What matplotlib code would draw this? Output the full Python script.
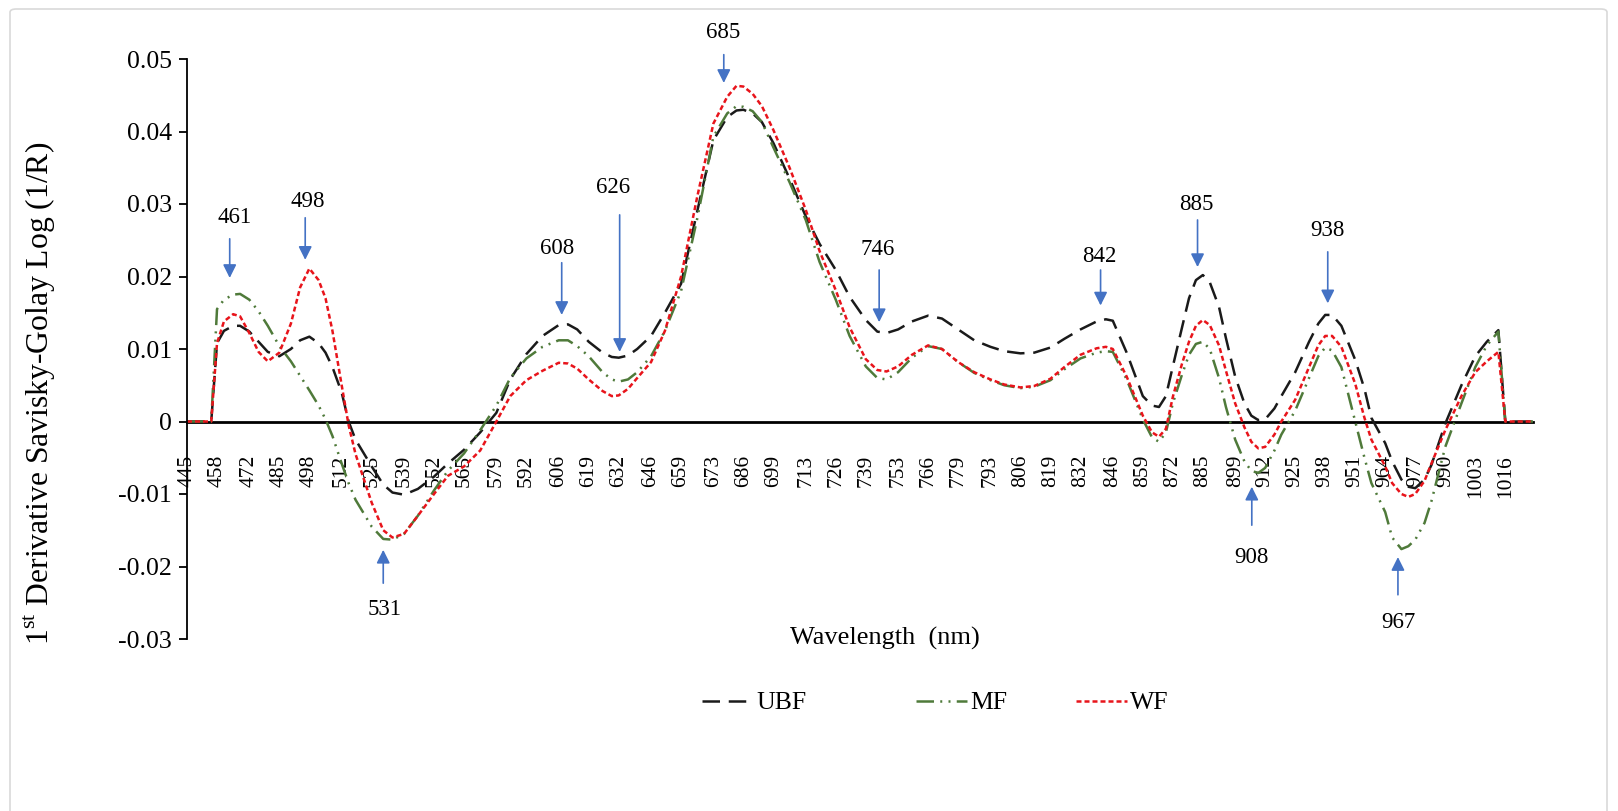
import numpy as np
import matplotlib
matplotlib.use("Agg")
import matplotlib.pyplot as plt
from matplotlib.patches import FancyBboxPatch

plt.rcParams['font.family'] = ['Liberation Serif', 'DejaVu Serif']
plt.rcParams['mathtext.fontset'] = 'custom'
plt.rcParams['mathtext.rm'] = 'Liberation Serif'

# wavelength (nm) of the sampled points
wavelength = [445, 455.5, 458, 461, 465, 468, 472, 476, 480, 485, 490, 494, 498, 502, 505, 508,
              512, 515, 518, 525, 530, 534, 539, 545, 552, 558, 565, 572, 579, 585, 592, 599,
              606, 610, 614, 619, 625, 629, 632, 636, 640, 646, 652, 659, 666, 673, 679, 683,
              686, 690, 694, 699, 706, 713, 719, 726, 732, 739, 744, 748, 753, 759, 766, 772,
              779, 786, 793, 799, 806, 812, 819, 825, 832, 839, 843, 846, 852, 859, 863, 866,
              869, 872, 876, 879, 882, 885, 888, 892, 895, 899, 903, 906, 909, 912, 916, 919,
              925, 931, 935, 938, 941, 945, 951, 955, 958, 964, 967, 971, 974, 977, 981, 984,
              990, 997, 1003, 1008, 1013, 1016, 1028]

ubf = [0, 0, 0.0108, 0.0125, 0.0132, 0.0132, 0.0124, 0.0110, 0.0096, 0.0090, 0.0100, 0.0112,
       0.0117, 0.0108, 0.0095, 0.0075, 0.0040, 0.0000, -0.0025, -0.0062, -0.0087, -0.0098,
       -0.0101, -0.0093, -0.0076, -0.0058, -0.0039, -0.0015, 0.0012, 0.0058, 0.0093, 0.0118,
       0.0133, 0.0134, 0.0127, 0.0110, 0.0095, 0.0089, 0.0088, 0.0091, 0.0100, 0.0118, 0.0150,
       0.0190, 0.0290, 0.0388, 0.0420, 0.0429, 0.0430, 0.0425, 0.0413, 0.0384, 0.0335, 0.0283,
       0.0245, 0.0209, 0.0172, 0.0140, 0.0124, 0.0122, 0.0127, 0.0138, 0.0146, 0.0142, 0.0127,
       0.0112, 0.0103, 0.0097, 0.0094, 0.0095, 0.0102, 0.0114, 0.0127, 0.0138, 0.0141, 0.0139,
       0.0095, 0.0035, 0.0022, 0.0020, 0.0035, 0.0076, 0.0130, 0.0170, 0.0195, 0.0202, 0.0192,
       0.0158, 0.0115, 0.0062, 0.0025, 0.0008, 0.0002, 0.0003, 0.0018, 0.0035, 0.0068, 0.0110,
       0.0135, 0.0147, 0.0147, 0.0132, 0.0085, 0.0045, 0.0005, -0.0030, -0.0055, -0.0080,
       -0.0090, -0.0092, -0.0080, -0.0060, -0.0003, 0.0050, 0.0090, 0.0110, 0.0126, 0, 0]

mf = [0, 0, 0.0155, 0.0168, 0.0175, 0.0176, 0.0168, 0.0152, 0.0132, 0.0104, 0.0083, 0.0063,
      0.0043, 0.0022, 0.0003, -0.0020, -0.0058, -0.0085, -0.0108, -0.0145, -0.0162, -0.0163,
      -0.0155, -0.0130, -0.0095, -0.0068, -0.0044, -0.0012, 0.0022, 0.0060, 0.0087, 0.0103,
      0.0112, 0.0112, 0.0104, 0.0090, 0.0068, 0.0058, 0.0055, 0.0058, 0.0068, 0.0090, 0.0125,
      0.0180, 0.0280, 0.0393, 0.0425, 0.0435, 0.0434, 0.0428, 0.0413, 0.0378, 0.0330, 0.0278,
      0.0220, 0.0168, 0.0118, 0.0076, 0.0060, 0.0058, 0.0068, 0.0088, 0.0104, 0.0100, 0.0082,
      0.0067, 0.0057, 0.0050, 0.0046, 0.0048, 0.0057, 0.0072, 0.0087, 0.0095, 0.0097, 0.0096,
      0.0058, 0.0003, -0.0022, -0.0028, -0.0015, 0.0025, 0.0065, 0.0092, 0.0107, 0.0110, 0.0100,
      0.0060, 0.0020, -0.0025, -0.0055, -0.0068, -0.0071, -0.0064, -0.0040, -0.0018, 0.0015,
      0.0060, 0.0090, 0.0102, 0.0098, 0.0075, 0.0000, -0.0050, -0.0085, -0.0125, -0.0160,
      -0.0176, -0.0172, -0.0163, -0.0140, -0.0110, -0.0035, 0.0025, 0.0075, 0.0105, 0.0124, 0, 0]

wf = [0, 0, 0.0108, 0.0138, 0.0148, 0.0145, 0.0122, 0.0096, 0.0083, 0.0095, 0.0135, 0.0185,
      0.0211, 0.0195, 0.0170, 0.0125, 0.0050, -0.0005, -0.0045, -0.0112, -0.0150, -0.0160,
      -0.0155, -0.0130, -0.0100, -0.0075, -0.0062, -0.0040, 0.0000, 0.0035, 0.0057, 0.0070,
      0.0081, 0.0080, 0.0073, 0.0058, 0.0042, 0.0035, 0.0036, 0.0045, 0.0060, 0.0082, 0.0125,
      0.0200, 0.0310, 0.0411, 0.0448, 0.0463, 0.0462, 0.0452, 0.0435, 0.0402, 0.0350, 0.0292,
      0.0235, 0.0181, 0.0130, 0.0086, 0.0071, 0.0069, 0.0076, 0.0092, 0.0105, 0.0100, 0.0082,
      0.0068, 0.0058, 0.0051, 0.0047, 0.0049, 0.0059, 0.0075, 0.0092, 0.0101, 0.0103, 0.0100,
      0.0062, 0.0008, -0.0015, -0.0021, -0.0010, 0.0034, 0.0080, 0.0110, 0.0132, 0.0140, 0.0133,
      0.0105, 0.0070, 0.0025, -0.0008, -0.0028, -0.0037, -0.0035, -0.0018, 0.0000, 0.0030,
      0.0075, 0.0105, 0.0118, 0.0118, 0.0103, 0.0052, 0.0005, -0.0025, -0.0062, -0.0085,
      -0.0100, -0.0104, -0.0100, -0.0082, -0.0058, -0.0012, 0.0035, 0.0068, 0.0083, 0.0096, 0, 0]

tick_labels = [445, 458, 472, 485, 498, 512, 525, 539, 552, 565, 579, 592, 606, 619, 632, 646,
               659, 673, 686, 699, 713, 726, 739, 753, 766, 779, 793, 806, 819, 832, 846, 859,
               872, 885, 899, 912, 925, 938, 951, 964, 977, 990, 1003, 1016]

# peak markers: label, arrow wavelength, arrow tip, arrow tail, text wavelength, text y
peaks = [("461", 463.5, 0.0198, 0.0252, 465.5, 0.0282),
         ("498", 496.2, 0.0223, 0.0281, 497.5, 0.0304),
         ("531", 530.0, -0.0177, -0.0223, 530.5, -0.0259),
         ("608", 607.3, 0.0147, 0.0219, 605.5, 0.0239),
         ("626", 632.4, 0.0096, 0.0285, 629.5, 0.0323),
         ("685", 677.5, 0.0467, 0.0506, 677.0, 0.0537),
         ("746", 744.8, 0.0137, 0.0209, 744.0, 0.0237),
         ("842", 840.7, 0.0160, 0.0209, 840.3, 0.0227),
         ("885", 882.7, 0.0213, 0.0278, 882.3, 0.0299),
         ("938", 939.1, 0.0163, 0.0234, 939.1, 0.0264),
         ("908", 906.2, -0.0090, -0.0143, 906.2, -0.0187),
         ("967", 969.5, -0.0187, -0.0239, 969.5, -0.0277)]

fig = plt.figure(figsize=(16.18, 8.11), dpi=100)
ax = fig.add_axes([187 / 1618, 1 - 639 / 811, (1533 - 187) / 1618, 580 / 811])

l1, = ax.plot(wavelength, ubf, color='#1a1a1a', lw=1.8, dashes=(7, 3.5))
l2, = ax.plot(wavelength, mf, color='#4f7a3a', lw=1.8, dashes=(7, 2.5, 0.8, 2.5, 0.8, 2.5))
l3, = ax.plot(wavelength, wf, color='#e8141b', lw=1.8, dashes=(2, 1.2))

for lab, x, tip, tail, tx, ty in peaks:
    ax.annotate('', xy=(x, tip), xytext=(x, tail),
                arrowprops=dict(arrowstyle='-|>', color='#4472c4', lw=1.2, mutation_scale=20,
                                shrinkA=0, shrinkB=0))
    ax.text(tx, ty, lab, ha='center', va='center', fontsize=16.5, clip_on=False)

ax.set_xlim(445, 1028)
ax.set_ylim(-0.03, 0.05)
ax.set_yticks(np.arange(-0.03, 0.051, 0.01))
ax.set_yticklabels(['-0.03', '-0.02', '-0.01', '0', '0.01', '0.02', '0.03', '0.04', '0.05'])
ax.set_xticks(tick_labels)
ax.set_xticklabels([str(t) for t in tick_labels])
ax.tick_params(axis='x', length=0, pad=24, labelsize=15.5, labelrotation=90)
for lbl in ax.get_xticklabels():
    lbl.set_va('center')
ax.tick_params(axis='y', length=6, width=1.3, direction='out', labelsize=18.5, pad=5)

ax.spines['top'].set_visible(False)
ax.spines['right'].set_visible(False)
ax.spines['bottom'].set_position(('data', 0))
ax.spines['bottom'].set_linewidth(2.0)
ax.spines['left'].set_linewidth(1.3)
ax.spines['bottom'].set_zorder(1)

ax.set_xlabel('Wavelength  (nm)', fontsize=19)
ax.xaxis.set_label_coords((885 - 187) / 1346, (639 - 627) / 580)
ax.set_ylabel(r'1$^{\mathrm{st}}$ Derivative Savisky-Golay Log (1/R)', fontsize=22.8)
ax.yaxis.set_label_coords((58 - 187) / 1346, (639 - 393) / 580)

# legend entries placed one by one, as spaced in the source
for handle, name, x0 in [(l1, 'UBF', 702), (l2, 'MF', 916), (l3, 'WF', 1076)]:
    fig.legend([handle], [name], loc='center left', bbox_to_anchor=(x0 / 1618, 1 - 703 / 811),
               frameon=False, fontsize=18.5, handlelength=2.0, handletextpad=0.1,
               borderpad=0, borderaxespad=0)

fig.patches.append(FancyBboxPatch((10 / 1618, -20 / 811), 1597 / 1618, 822 / 811,
                                  boxstyle='round,pad=0,rounding_size=0.004',
                                  transform=fig.transFigure, fill=False,
                                  edgecolor='#d9d9d9', lw=1.2))

fig.savefig('out.png', dpi=100)
